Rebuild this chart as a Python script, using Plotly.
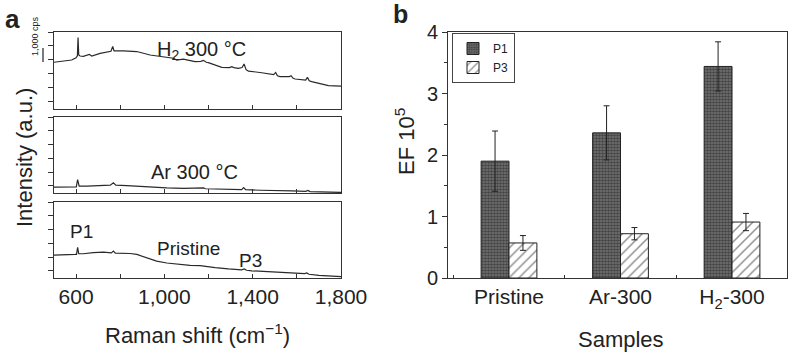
import plotly.graph_objects as go

# ---------------- data: panel a (Raman spectra, units of 1,000 cps) ----------------
h2_shift = [500, 542, 580, 600, 606, 609, 612, 618, 633, 660, 671, 709, 746, 758, 766, 772,
            814, 875, 935, 995, 1041, 1056, 1086, 1139, 1165, 1177, 1190, 1199, 1260, 1295,
            1305, 1315, 1335, 1352, 1361, 1370, 1381, 1441, 1486, 1495, 1504, 1512, 1524,
            1566, 1574, 1582, 1592, 1630, 1640, 1648, 1656, 1667, 1713, 1743, 1800]
h2_int = [2.83, 2.90, 2.99, 3.15, 3.30, 4.60, 3.35, 3.28, 3.26, 3.40, 3.28, 3.47, 3.60, 3.62,
          3.96, 3.65, 3.64, 3.60, 3.35, 3.19, 3.12, 2.99, 3.06, 2.88, 2.90, 2.97, 2.83, 2.80,
          2.47, 2.45, 2.52, 2.45, 2.40, 2.45, 2.71, 2.30, 2.20, 2.08, 1.96, 1.94, 2.10, 1.86,
          1.80, 1.80, 1.87, 1.70, 1.63, 1.55, 1.55, 1.75, 1.50, 1.44, 1.24, 1.15, 1.12]

ar_shift = [500, 558, 595, 601, 607, 614, 650, 700, 755, 769, 780, 830, 890, 951, 1011, 1087,
            1168, 1177, 1186, 1223, 1298, 1350, 1359, 1368, 1434, 1495, 1502, 1510, 1562,
            1570, 1578, 1640, 1650, 1660, 1721, 1800]
ar_int = [-0.10, -0.10, -0.08, -0.07, 0.45, -0.02, -0.02, 0.02, 0.05, 0.22, 0.05, 0.02, -0.05,
          -0.10, -0.15, -0.18, -0.20, -0.15, -0.21, -0.22, -0.25, -0.27, -0.13, -0.28, -0.32,
          -0.34, -0.30, -0.35, -0.36, -0.32, -0.37, -0.40, -0.33, -0.42, -0.46, -0.48]

pr_shift = [500, 558, 595, 602, 607, 612, 633, 678, 724, 760, 769, 778, 845, 875, 920, 965,
            1011, 1056, 1116, 1162, 1199, 1230, 1290, 1350, 1362, 1372, 1396, 1490, 1501,
            1510, 1592, 1635, 1645, 1655, 1700, 1743, 1800]
pr_int = [1.14, 1.14, 1.19, 1.20, 1.71, 1.24, 1.24, 1.33, 1.36, 1.30, 1.43, 1.28, 1.26, 1.19,
          0.95, 0.71, 0.57, 0.48, 0.40, 0.38, 0.33, 0.24, 0.14, 0.07, 0.14, 0.04, 0.00, -0.08,
          -0.04, -0.09, -0.14, -0.20, -0.15, -0.25, -0.33, -0.38, -0.42]

shift_ticks = [600, 1000, 1400, 1800]
shift_labels = ["600", "1,000", "1,400", "1,800"]

# ---------------- data: panel b (enhancement factor, x10^5) ----------------
samples = ["Pristine", "Ar-300", "H<sub>2</sub>-300"]
p1 = [1.90, 2.36, 3.44]
p1_err = [0.49, 0.44, 0.40]
p3 = [0.57, 0.72, 0.91]
p3_err = [0.12, 0.10, 0.14]

W, H = 788, 352
FONT = "Liberation Sans, Arial, Helvetica, sans-serif"
LINE = "#333333"

def px(x):
    return x / W

def py(y):
    return 1 - y / H

fig = go.Figure()

spectra = [(h2_shift, h2_int, "x", "y"), (ar_shift, ar_int, "x2", "y2"), (pr_shift, pr_int, "x3", "y3")]
for xs, ys, xa, ya in spectra:
    fig.add_trace(go.Scatter(x=xs, y=ys, mode="lines", xaxis=xa, yaxis=ya,
                             line=dict(color="#2a2a2a", width=1.2), showlegend=False,
                             hoverinfo="skip"))

fig.add_trace(go.Bar(name="P1", x=samples, y=p1, xaxis="x4", yaxis="y4",
                     marker=dict(color="#555", line=dict(color="#222", width=1),
                                 pattern=dict(shape=".", fgcolor="#111", bgcolor="#777",
                                              size=3, solidity=0.6)),
                     error_y=dict(type="data", array=p1_err, color="#222", thickness=1, width=3)))
fig.add_trace(go.Bar(name="P3", x=samples, y=p3, xaxis="x4", yaxis="y4",
                     marker=dict(color="white", line=dict(color="#222", width=1),
                                 pattern=dict(shape="/", fgcolor="#222", bgcolor="white",
                                              size=7, solidity=0.22)),
                     error_y=dict(type="data", array=p3_err, color="#222", thickness=1, width=3)))

left_dom = [px(54), px(341)]
panels = [(32, 109), (117, 193), (202, 278)]
layout = dict(
    width=W, height=H, autosize=False, margin=dict(l=0, r=0, t=0, b=0, pad=0),
    paper_bgcolor="white", plot_bgcolor="white",
    font=dict(family=FONT, color="#222", size=20),
    bargap=0.5, bargroupgap=0.0, barmode="group",
)
for i, (t, b) in enumerate(panels):
    sfx = "" if i == 0 else str(i + 1)
    layout["xaxis" + sfx] = dict(
        domain=left_dom, range=[500, 1800], anchor="y" + sfx,
        tickvals=shift_ticks, ticktext=shift_labels, showticklabels=(i == 2),
        ticks="inside", ticklen=4, tickcolor=LINE, showline=True, linecolor=LINE,
        minor=dict(tick0=600, dtick=200, ticks="inside", ticklen=4, tickcolor=LINE,
                   showgrid=False),
        linewidth=1, mirror=True, showgrid=False, zeroline=False, automargin=False,
        tickfont=dict(size=21))
    layout["yaxis" + sfx] = dict(
        domain=[py(b), py(t)], range=[-0.52, 5.0], anchor="x" + sfx,
        tickvals=[0, 1, 2, 3, 4, 5], showticklabels=False, automargin=False,
        ticks="outside", ticklen=5, tickcolor=LINE, showline=True, linecolor=LINE,
        linewidth=1, mirror=True, showgrid=False, zeroline=False)

layout["xaxis4"] = dict(
    domain=[px(448), px(787)], anchor="y4", type="category", range=[-0.547, 2.493],
    tickson="boundaries", ticks="inside", ticklen=3, tickcolor=LINE, automargin=False,
    showline=True, linecolor=LINE, linewidth=1, mirror=True, showgrid=False,
    tickfont=dict(size=21))
layout["yaxis4"] = dict(
    domain=[py(278), py(32)], anchor="x4", range=[0, 4], dtick=1, automargin=False,
    ticks="outside", ticklen=5, tickcolor=LINE, showline=True, linecolor=LINE,
    linewidth=1, mirror=True, showgrid=False, zeroline=False,
    minor=dict(dtick=0.5, ticks="outside", ticklen=3, tickcolor=LINE, showgrid=False),
    tickfont=dict(size=20))
layout["legend"] = dict(x=px(452), y=py(33), xanchor="left", yanchor="top",
                        bgcolor="white", bordercolor="#444", borderwidth=1,
                        font=dict(size=12), itemwidth=30, tracegroupgap=0,
                        traceorder="normal")
fig.update_layout(**layout)

ann = [
    dict(text="<b>a</b>", x=px(3), y=py(19), size=26, xanchor="left"),
    dict(text="<b>b</b>", x=px(391), y=py(14), size=25, xanchor="left"),
    dict(text="H<sub>2</sub> 300 °C", x=px(201), y=py(50), size=20),
    dict(text="Ar 300 °C", x=px(194), y=py(172), size=20),
    dict(text="P1", x=px(81), y=py(231), size=19),
    dict(text="Pristine", x=px(188), y=py(248), size=19),
    dict(text="P3", x=px(250), y=py(260), size=19),
    dict(text="Raman shift (cm<sup>−1</sup>)", x=px(197), y=py(334), size=22),
    dict(text="Samples", x=px(621), y=py(339), size=22),
    dict(text="Intensity (a.u.)", x=px(24), y=py(158), size=22, angle=-90),
    dict(text="EF 10<sup>5</sup>", x=px(405), y=py(142), size=22, angle=-90),
    dict(text="1,000 cps", x=px(35), y=py(36), size=9, angle=-90),
]
for a in ann:
    fig.add_annotation(text=a["text"], x=a["x"], y=a["y"], xref="paper", yref="paper",
                       showarrow=False, textangle=a.get("angle", 0),
                       xanchor=a.get("xanchor", "center"), yanchor="middle",
                       font=dict(family=FONT, size=a["size"], color="#222"))

# 1,000 cps scale bar (one tick interval of the top panel)
fig.add_shape(type="line", xref="paper", yref="y", x0=px(43), x1=px(43), y0=2.85, y1=3.85,
              line=dict(color="#222", width=1.2))

fig.write_html("out.html")
